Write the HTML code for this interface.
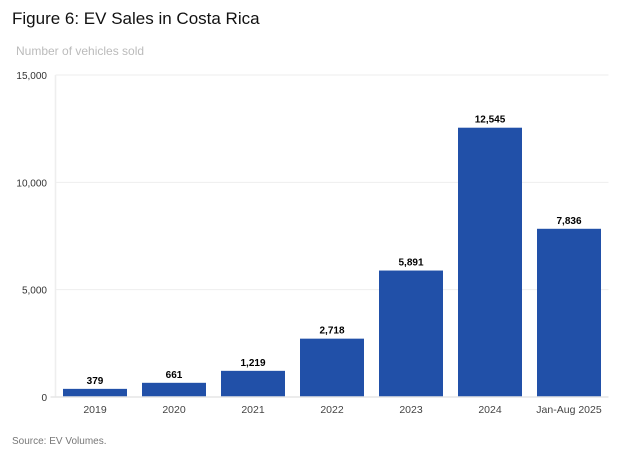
<!DOCTYPE html>
<html><head><meta charset="utf-8"><style>
body{margin:0;background:#fff;width:624px;height:456px;overflow:hidden;font-family:"Liberation Sans",sans-serif}
</style></head><body>
<svg width="624" height="456" id="c">
<text x="12" y="24" font-size="17" fill="#111">Figure 6: EV Sales in Costa Rica</text>
<text x="16" y="55" font-size="12" fill="#bbb">Number of vehicles sold</text>
<text x="12" y="444" font-size="10" fill="#777">Source: EV Volumes.</text>
<g id="g"></g>
</svg>
<script>
const categories=["2019","2020","2021","2022","2023","2024","Jan-Aug 2025"];
const values=[379,661,1219,2718,5891,12545,7836];
const valueLabels=["379","661","1,219","2,718","5,891","12,545","7,836"];
const ticks=[0,5000,10000,15000];
const tickLabels=["0","5,000","10,000","15,000"];
const NS="http://www.w3.org/2000/svg",g=document.getElementById('g');
const L=55.5,R=608.5,B=397,T=75,band=(R-L)/categories.length,bw=64;
const y=v=>B-(B-T)*v/15000, x=i=>L+band*i+band/2;
function mk(t,a,txt){const e=document.createElementNS(NS,t);for(const k in a)e.setAttribute(k,a[k]);if(txt!==undefined)e.textContent=txt;g.appendChild(e);return e;}
ticks.forEach((t,i)=>{
 const l=mk('line',{x1:L,x2:R,y1:y(t),y2:y(t),stroke:'#eee','stroke-width':1});
 
 
 const tx=mk('text',{x:47,y:y(t)+4,'font-size':10,fill:'#333','text-anchor':'end'},tickLabels[i]);
 
 
});
const ax=mk('line',{x1:L,x2:L,y1:T,y2:B,stroke:'#eee','stroke-width':1.5});


values.forEach((v,i)=>{
 const r=mk('rect',{x:x(i)-bw/2,y:y(v),width:bw,height:B-y(v),fill:'#2150a8'});
 
 
 const t=mk('text',{x:x(i),y:y(v)-5,'font-size':10,'font-weight':'bold',fill:'#000','text-anchor':'middle'},valueLabels[i]);
 
 
 const c=mk('text',{x:x(i),y:413,'font-size':10.5,fill:'#444','text-anchor':'middle'},categories[i]);
 
 
});
const base=mk('line',{x1:L-5,x2:R,y1:B,y2:B,stroke:'#e6e6e6','stroke-width':1.5});


</script>
</body></html>
